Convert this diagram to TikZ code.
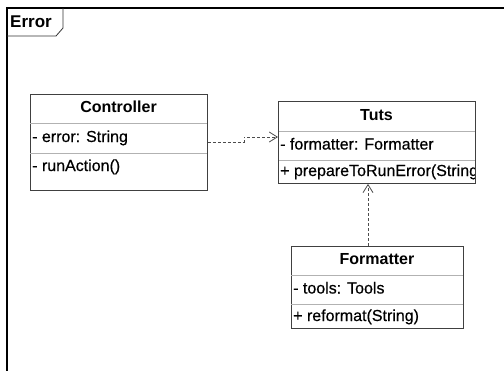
\documentclass[tikz,border=0pt]{standalone}
\usepackage{fontspec}
\setmainfont{Liberation Sans}
\newfontfamily\memfont{Liberation Sans}[FakeBold=0.5]
\usepackage{tikz}
\usetikzlibrary{arrows.meta}

\begin{document}
\begin{tikzpicture}[x=1pt,y=-1pt,
  classbox/.style={draw=black!75,line width=0.9pt,anchor=north west,inner sep=0pt},
  classname/.style={font=\fontsize{16}{18}\selectfont\bfseries,inner sep=0pt,text height=11pt,text depth=3pt},
  member/.style={anchor=west,font=\fontsize{16}{18}\memfont,inner sep=2pt,text height=11pt,text depth=3pt},
  divider/.style={draw=black!30,line width=0.9pt},
  dep/.style={draw=black!70,line width=0.8pt,dash pattern=on 3pt off 2pt,-{Straight Barb[length=8pt,width=10pt]}}]
\useasboundingbox (0,0) rectangle (504,370);
\draw[line width=1.4pt] (7,380) -- (7,8) -- (505,8) -- (505,380);
\draw[line width=0.8pt,black!80] (7,36) -- (56,36) -- (63,28) -- (63,8);
\node[anchor=west,font=\fontsize{17}{19}\selectfont\bfseries,inner sep=0pt] (frametitle) at (10,22) {Error};

\node[classbox,minimum width=177pt,minimum height=96pt] (controller) at (30,94) {};
\node[classname] (ctrlhead) at (118.5,108.5) {Controller};
\draw[divider] (30,123) -- (207,123);
\node[member] (ctrlattr) at (30,138) {- error: String};
\draw[divider] (30,153) -- (207,153);
\node[member] (ctrlop) at (30,167) {- runAction()};

\node[classbox,minimum width=197pt,minimum height=82pt] (tuts) at (278,101) {};
\node[classname] (tutshead) at (376.5,116) {Tuts};
\draw[divider] (278,131) -- (475,131);
\node[member] (tutsattr) at (278,145.5) {- formatter: Formatter};
\draw[divider] (278,160) -- (475,160);
\begin{scope}
\clip (278,160) rectangle (475,183);
\node[member] (tutsop) at (278,172) {+ prepareToRunError(String)};
\end{scope}
\draw[black!75,line width=0.9pt] (tuts.north west) rectangle (tuts.south east);

\node[classbox,minimum width=172pt,minimum height=82pt] (formatter) at (291,246) {};
\node[classname] (fmthead) at (377,260.5) {Formatter};
\draw[divider] (291,275) -- (463,275);
\node[member] (fmtattr) at (291,289.5) {- tools: Tools};
\draw[divider] (291,304) -- (463,304);
\node[member] (fmtop) at (291,317) {+ reformat(String)};

\coordinate (tutsin) at (278,137);
\draw[dep] (controller.east) -- ++(36,0) |- (tutsin);
\coordinate (fmtout) at (368,246);
\draw[dep] (fmtout) -- (fmtout |- tuts.south);
\end{tikzpicture}
\end{document}
